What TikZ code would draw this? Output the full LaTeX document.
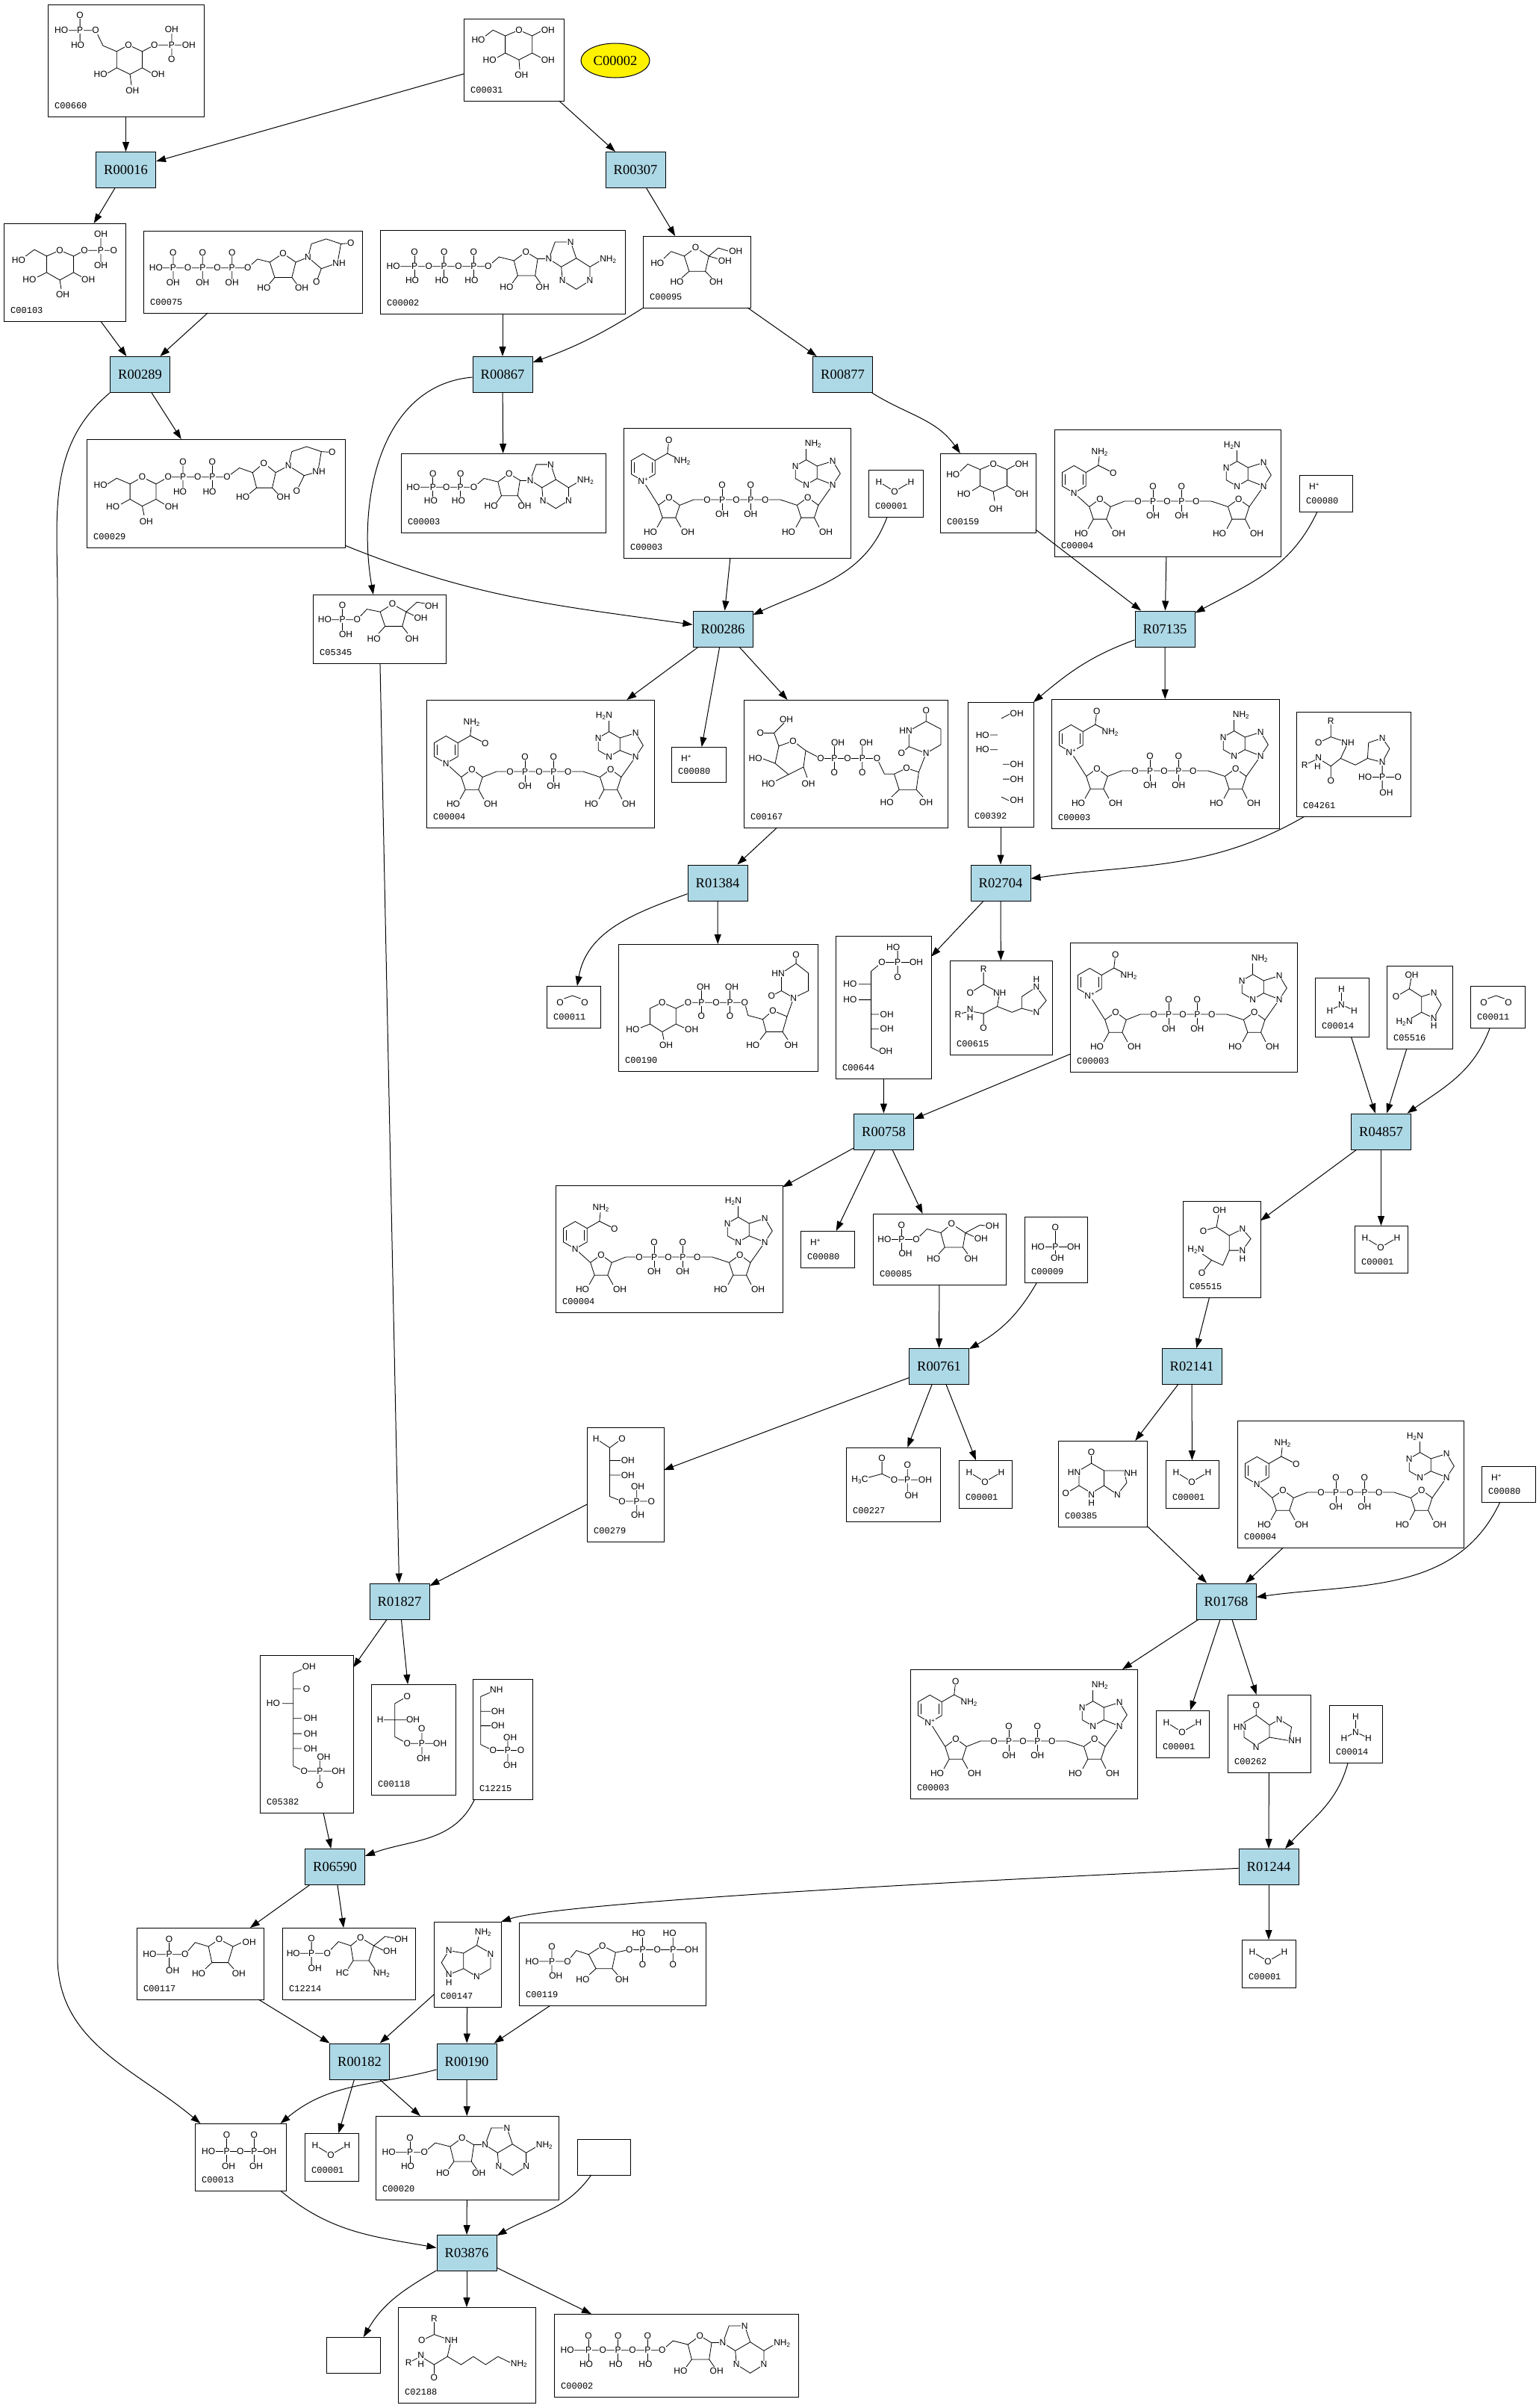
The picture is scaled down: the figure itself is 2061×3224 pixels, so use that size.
\documentclass[tikz,border=0pt]{standalone}
\usepackage{fontspec}
\setmainfont{Liberation Serif}
\newfontfamily\idfont{Liberation Mono}
\newfontfamily\atomfont{Liberation Sans}
\usetikzlibrary{arrows.meta,shapes.geometric}
\definecolor{rxnfill}{HTML}{ADD8E6}

% compound box: name, centre x, centre y, width, height, KEGG id
\newcommand{\cpd}[6]{%
  \node[cpd,minimum width=#4,minimum height=#5] (#1) at (#2,#3) {};
  \node[cid] (#1-id) at (#1.south west) {#6};}
% structure in a box: bonds, then atoms x/y/text (offsets from the top left corner, y downwards)
\newcommand{\drawmol}[3]{%
  \begin{scope}[shift={(#1.north west)},yscale=-1]
    \draw[bond] #2;
    \foreach \x/\y/\t [count=\k] in {#3}
      \node[atomw] (#1-x\k) at (\x,\y) {\t};
  \end{scope}}
% small molecules drawn inside their boxes
\newcommand{\water}[1]{%
  \node[atom] (#1-h1) at ([shift={(14,-16)}]#1.north west) {H};
  \node[atom] (#1-o)  at ([shift={(35,-29)}]#1.north west) {O};
  \node[atom] (#1-h2) at ([shift={(57,-16)}]#1.north west) {H};
  \draw[bond] (#1-h1) -- (#1-o) -- (#1-h2);}
\newcommand{\proton}[1]{%
  \node[atom] (#1-h) at ([shift={(20,-15)}]#1.north west) {H\textsuperscript{+}};}
\newcommand{\carbdiox}[1]{%
  \node[atom] (#1-o1) at ([shift={(18,-22)}]#1.north west) {O};
  \node[atom] (#1-o2) at ([shift={(51,-22)}]#1.north west) {O};
  \coordinate (#1-c) at ([shift={(34.5,-13)}]#1.north west);
  \draw[bond] (#1-o1.north east) -- (#1-c) -- (#1-o2.north west);}
\newcommand{\ammonia}[1]{%
  \node[atom] (#1-n)  at ([shift={(35.5,-36)}]#1.north west) {N};
  \node[atom] (#1-h1) at ([shift={(35.5,-15)}]#1.north west) {H};
  \node[atom] (#1-h2) at ([shift={(20,-44)}]#1.north west) {H};
  \node[atom] (#1-h3) at ([shift={(52.5,-44)}]#1.north west) {H};
  \draw[bond] (#1-n) -- (#1-h1) (#1-n) -- (#1-h2) (#1-n) -- (#1-h3);}
% NAD+/NADH: box, ring y, N label, top label, side label, amine label, amine x
\newcommand{\nadpic}[7]{%
  \begin{scope}[shift={(#1.north west)}]
    \draw[bond] (26.3,-#2) +(90:18.3) -- +(30:18.3) -- +(-30:18.3) -- +(-90:18.3)
      -- +(-150:18.3) -- +(150:18.3) -- cycle;
    \draw[bond] (26.3,-#2) +(150:14) -- +(-150:14) +(30:14) -- +(-30:14);
    \draw[bond] (61,-108) +(90:15) -- +(18:15) -- +(-54:15) -- +(-126:15) -- +(162:15) -- cycle;
    \draw[bond] (246.7,-108) +(90:15) -- +(18:15) -- +(-54:15) -- +(-126:15) -- +(162:15) -- cycle;
    \draw[bond] (244.7,-59.3) +(90:16.7) -- +(30:16.7) -- +(-30:16.7) -- +(-90:16.7)
      -- +(-150:16.7) -- +(150:16.7) -- cycle;
    \draw[bond] (259.2,-51) -- (280.3,-44.3) -- (290.3,-61) -- (280.3,-76) -- (259.2,-67.7);
    \draw[bond] (26.3,-#2-18.3) -- (46.7,-103.4);
    \draw[bond] (75.3,-103.4) -- (94,-96) -- (210,-96) -- (232.4,-103.4);
    \draw[bond] (261,-103.4) -- (280.3,-76);
    \draw[bond] (132,-76) -- (132,-115) (170.3,-76) -- (170.3,-115);
    \draw[bond] (52.2,-120.1) -- (45,-133) (69.8,-120.1) -- (77,-133);
    \draw[bond] (237.9,-120.1) -- (231,-133) (255.5,-120.1) -- (262,-133);
    \draw[bond] (42.15,-#2+9.15) -- (58.75,-#2+18.65) -- (60.75,-#2+36.65)
      (58.75,-#2+18.65) -- (78.75,-#2+8.65);
    \draw[bond] (244.7,-42.6) -- (244.7,-28);
    \node[atomw] (#1-n)  at (26.3,-#2-18.3) {#3};
    \node[atomw] (#1-t)  at (60.75,-#2+36.65) {#4};
    \node[atomw] (#1-s)  at (78.75,-#2+8.65) {#5};
    \node[atomw] (#1-am) at (#7,-21) {#6};
    \node[atomw] (#1-o1) at (61,-93) {O};
    \node[atomw] (#1-o2) at (246.7,-93) {O};
    \node[atomw] (#1-h1) at (36,-139) {HO};
    \node[atomw] (#1-h2) at (86,-139) {OH};
    \node[atomw] (#1-h3) at (221,-139) {HO};
    \node[atomw] (#1-h4) at (271,-139) {OH};
    \foreach \x/\t [count=\k] in {112/O,132/P,151/O,170.3/P,189.7/O}
      \node[atomw] (#1-ch\k) at (\x,-96) {\t};
    \node[atomw] (#1-d1) at (132,-76) {O};
    \node[atomw] (#1-d2) at (170.3,-76) {O};
    \node[atomw] (#1-u1) at (132,-115) {OH};
    \node[atomw] (#1-u2) at (170.3,-115) {OH};
    \node[atomw] (#1-a1) at (230.2,-51) {N};
    \node[atomw] (#1-a3) at (244.7,-76) {N};
    \node[atomw] (#1-a7) at (280.3,-44.3) {N};
    \node[atomw] (#1-a9) at (280.3,-76) {N};
  \end{scope}}
% adenosine phosphates: box, number of phosphates, scale
\newcommand{\adopic}[3]{%
  \begin{scope}[shift={(#1.north west)},scale=#3]
    \pgfmathsetmacro\xo{39.7*(#2-1)}
    \draw[bond] ({\xo+115.9},-29.3) -- ({\xo+131.6},-38.7) -- ({\xo+128.3},-61)
      -- ({\xo+104.9},-61) -- ({\xo+99.9},-41) -- cycle;
    \draw[bond] ({\xo+163.3},-49.3) -- ({\xo+183.3},-37.7) -- ({\xo+201.6},-49.3)
      -- ({\xo+201.6},-67.7) -- ({\xo+183.3},-79.3) -- ({\xo+164.9},-67.7) -- cycle;
    \draw[bond] ({\xo+163.3},-49.3) -- ({\xo+146.6},-38.7) -- ({\xo+154.9},-16)
      -- ({\xo+175.9},-16) -- ({\xo+183.3},-37.7);
    \draw[bond] (17.7,-48.7) -- ({\xo+65.3},-48.7) -- ({\xo+79.9},-36) -- ({\xo+99.9},-41);
    \draw[bond] ({\xo+131.6},-38.7) -- ({\xo+146.6},-38.7);
    \draw[bond] ({\xo+128.3},-61) -- ({\xo+136},-72) ({\xo+104.9},-61) -- ({\xo+97},-72);
    \draw[bond] ({\xo+201.6},-49.3) -- ({\xo+214},-42);
    \foreach \i in {1,...,#2}
      \draw[bond] ({46+39.7*(\i-1)},-29.3) -- ({46+39.7*(\i-1)},-67.7);
    \node[atomw] (#1-ho) at (17.7,-48.7) {HO};
    \foreach \i in {1,...,#2} {
      \node[atomw] (#1-p\i) at ({46+39.7*(\i-1)},-48.7) {P};
      \node[atomw] (#1-o\i) at ({65.3+39.7*(\i-1)},-48.7) {O};
      \node[atomw] (#1-d\i) at ({46+39.7*(\i-1)},-29.3) {O};
      \node[atomw] (#1-h\i) at ({43+39.7*(\i-1)},-67.7) {HO};}
    \node[atomw] (#1-ro)  at ({\xo+115.9},-29.3) {O};
    \node[atomw] (#1-rho) at ({\xo+90},-76) {HO};
    \node[atomw] (#1-roh) at ({\xo+138.3},-76) {OH};
    \node[atomw] (#1-n9)  at ({\xo+146.6},-38.7) {N};
    \node[atomw] (#1-n7)  at ({\xo+175.9},-16) {N};
    \node[atomw] (#1-n1)  at ({\xo+201.6},-67.7) {N};
    \node[atomw] (#1-n3)  at ({\xo+164.9},-67.7) {N};
    \node[atomw] (#1-am)  at ({\xo+226},-39.3) {NH\textsubscript{2}};
  \end{scope}}

\begin{document}
\begin{tikzpicture}[x=1pt,y=1pt,
  cpd/.style={draw,line width=1pt,inner sep=0pt,outer sep=0pt},
  cid/.style={anchor=south west,inner sep=0pt,xshift=9,yshift=10,
    font=\idfont\fontsize{12}{12}\selectfont},
  rxn/.style={draw,line width=1pt,fill=rxnfill,minimum width=80,
    minimum height=48,inner sep=0pt,font=\fontsize{18.5}{20}\selectfont},
  hub/.style={ellipse,draw,line width=1pt,fill=yellow,minimum width=92,
    minimum height=46,inner sep=0pt,font=\fontsize{18.5}{20}\selectfont},
  atom/.style={inner sep=0.5pt,font=\atomfont\fontsize{12}{12}\selectfont},
  atomw/.style={atom,fill=white},
  bond/.style={line width=0.8pt},
  flow/.style={line width=1pt,-{Triangle[length=13pt,width=9pt]}}]
  \useasboundingbox (0,0) rectangle (2061,-3224);
  % Reactions
  \node[rxn] (R00016) at (168.5,-227.5) {R00016};
  \node[rxn] (R00307) at (851,-227.5) {R00307};
  \node[rxn] (R00289) at (187.5,-501.5) {R00289};
  \node[rxn] (R00867) at (673,-501.5) {R00867};
  \node[rxn] (R00877) at (1128.5,-501.5) {R00877};
  \node[rxn] (R00286) at (968,-842) {R00286};
  \node[rxn] (R07135) at (1560,-842) {R07135};
  \node[rxn] (R01384) at (961,-1182) {R01384};
  \node[rxn] (R02704) at (1340,-1182) {R02704};
  \node[rxn] (R00758) at (1183.5,-1515) {R00758};
  \node[rxn] (R04857) at (1849.5,-1515) {R04857};
  \node[rxn] (R00761) at (1257.5,-1829.5) {R00761};
  \node[rxn] (R02141) at (1596,-1829.5) {R02141};
  \node[rxn] (R01827) at (535,-2144) {R01827};
  \node[rxn] (R01768) at (1642,-2144) {R01768};
  \node[rxn] (R06590) at (448.5,-2499.5) {R06590};
  \node[rxn] (R01244) at (1699,-2499.5) {R01244};
  \node[rxn] (R00182) at (481.5,-2760) {R00182};
  \node[rxn] (R00190) at (625,-2760) {R00190};
  \node[rxn] (R03876) at (625,-3016.5) {R03876};
  % Compounds, row by row
  \node[hub] (hub) at (824,-81) {C00002};
  \cpd{c660}{168.5}{-81}{209}{150}{C00660}
  \cpd{c31}{688}{-80}{134}{110}{C00031}
  \cpd{c103}{86.5}{-364.5}{163}{131}{C00103}
  \cpd{c75}{338.5}{-364}{293}{110}{C00075}
  \cpd{c2a}{673}{-364}{328}{112}{C00002}
  \cpd{c95}{933}{-364}{144}{96}{C00095}
  \cpd{c29}{289}{-660.5}{346}{145}{C00029}
  \cpd{c3a}{674}{-660}{274}{106}{C00003}
  \cpd{c3b}{987}{-660}{304}{174}{C00003}
  \cpd{c1a}{1199.5}{-660.5}{73}{63}{C00001}
  \cpd{c159}{1323}{-660}{128}{106}{C00159}
  \cpd{c4a}{1563.5}{-660}{303}{170}{C00004}
  \cpd{c80a}{1775.5}{-660.5}{71}{49}{C00080}
  \cpd{c5345}{508}{-842}{178}{92}{C05345}
  \cpd{c4b}{723.5}{-1022.5}{305}{171}{C00004}
  \cpd{c80b}{935.5}{-1023.5}{73}{47}{C00080}
  \cpd{c167}{1132.5}{-1022.5}{273}{171}{C00167}
  \cpd{c392}{1340}{-1023.5}{88}{167}{C00392}
  \cpd{c3c}{1560.5}{-1022.5}{305}{173}{C00003}
  \cpd{c4261}{1812.5}{-1023}{153}{140}{C04261}
  \cpd{c11a}{768}{-1348}{72}{56}{C00011}
  \cpd{c190}{961.5}{-1349}{267}{170}{C00190}
  \cpd{c644}{1183}{-1348.5}{128}{191}{C00644}
  \cpd{c615}{1340.5}{-1349}{137}{126}{C00615}
  \cpd{c3d}{1585}{-1348.5}{304}{173}{C00003}
  \cpd{c14a}{1797}{-1348.5}{72}{79}{C00014}
  \cpd{c5516}{1901}{-1348.5}{88}{111}{C05516}
  \cpd{c11b}{2005.5}{-1348}{73}{56}{C00011}
  \cpd{c4c}{896}{-1672}{304}{170}{C00004}
  \cpd{c80c}{1108}{-1672.5}{72}{49}{C00080}
  \cpd{c85}{1258}{-1672.5}{178}{95}{C00085}
  \cpd{c9}{1414}{-1673}{84}{88}{C00009}
  \cpd{c5515}{1636}{-1672.5}{104}{129}{C05515}
  \cpd{c1b}{1849.5}{-1672.5}{71}{63}{C00001}
  \cpd{c279}{837.5}{-1987.5}{103}{153}{C00279}
  \cpd{c227}{1196}{-1987.5}{126}{99}{C00227}
  \cpd{c1c}{1319.5}{-1987}{71}{64}{C00001}
  \cpd{c385}{1476.5}{-1986.5}{119}{115}{C00385}
  \cpd{c1d}{1596.5}{-1987}{71}{64}{C00001}
  \cpd{c4d}{1808.5}{-1987}{303}{170}{C00004}
  \cpd{c80d}{2020}{-1987}{72}{48}{C00080}
  \cpd{c5382}{410.5}{-2321.5}{125}{211}{C05382}
  \cpd{c118}{553.5}{-2329}{113}{148}{C00118}
  \cpd{c12215}{673}{-2328.5}{80}{161}{C12215}
  \cpd{c3e}{1371}{-2321.5}{304}{173}{C00003}
  \cpd{c1e}{1583.5}{-2321.5}{71}{63}{C00001}
  \cpd{c262}{1699.5}{-2321}{111}{104}{C00262}
  \cpd{c14b}{1815.5}{-2321.5}{71}{77}{C00014}
  \cpd{c117}{268}{-2629}{170}{96}{C00117}
  \cpd{c12214}{467}{-2629}{178}{96}{C12214}
  \cpd{c147}{626}{-2630}{90}{114}{C00147}
  \cpd{c119}{820}{-2629.5}{250}{111}{C00119}
  \cpd{c1f}{1699}{-2629}{72}{64}{C00001}
  \cpd{c13}{322}{-2888}{122}{90}{C00013}
  \cpd{c1g}{444}{-2888}{72}{64}{C00001}
  \cpd{c20}{625.5}{-2889}{245}{112}{C00020}
  \node[cpd,minimum width=71,minimum height=48] (cx1) at (808.5,-2888) {};
  \node[cpd,minimum width=72,minimum height=48] (cx2) at (473,-3153) {};
  \cpd{c2188}{625}{-3153}{184}{128}{C02188}
  \cpd{c2b}{905.5}{-3153.5}{327}{111}{C00002}
  % structures inside the boxes
  \water{c1a} \water{c1b} \water{c1c} \water{c1d}
  \water{c1e} \water{c1f} \water{c1g}
  \proton{c80a} \proton{c80b} \proton{c80c} \proton{c80d}
  \carbdiox{c11a} \carbdiox{c11b}
  \ammonia{c14a} \ammonia{c14b}
  \nadpic{c3b}{52.7}{N\textsuperscript{+}}{O}{NH\textsubscript{2}}{NH\textsubscript{2}}{254}
  \nadpic{c3c}{52.7}{N\textsuperscript{+}}{O}{NH\textsubscript{2}}{NH\textsubscript{2}}{254}
  \nadpic{c3d}{52.7}{N\textsuperscript{+}}{O}{NH\textsubscript{2}}{NH\textsubscript{2}}{254}
  \nadpic{c3e}{52.7}{N\textsuperscript{+}}{O}{NH\textsubscript{2}}{NH\textsubscript{2}}{254}
  \nadpic{c4a}{66.7}{N}{NH\textsubscript{2}}{O}{H\textsubscript{2}N}{238}
  \nadpic{c4b}{66.7}{N}{NH\textsubscript{2}}{O}{H\textsubscript{2}N}{238}
  \nadpic{c4c}{66.7}{N}{NH\textsubscript{2}}{O}{H\textsubscript{2}N}{238}
  \nadpic{c4d}{66.7}{N}{NH\textsubscript{2}}{O}{H\textsubscript{2}N}{238}
  \adopic{c2a}{3}{1}
  \adopic{c2b}{3}{1}
  \adopic{c3a}{2}{0.93}
  \adopic{c20}{1}{1}
  \drawmol{c9}{(41.4,14)--(41.4,53) (18,40.3)--(66,40.3)}
    {41.4/40.3/P, 41.4/14/O, 18/40.3/HO, 66/40.3/OH, 44/55/OH}
  \drawmol{c13}{(18.2,37.6)--(100.3,37.6) (42.5,15)--(42.5,56.4) (79.3,15)--(79.3,56.4)}
    {18.2/37.6/HO, 42.5/37.6/P, 60.9/37.6/O, 79.3/37.6/P, 100.3/37.6/OH,
     42.5/15/O, 79.3/15/O, 45/57/OH, 82/57/OH}
  \drawmol{c660}{(92.3,62.9)--(108.1,54.2)--(126.5,62.9)--(126.5,84.8)--(110.1,93.5)--(92.3,84.8)--cycle
    (92.3,62.9)--(74,55.2)--(64.1,34.8) (18.1,34.8)--(64.1,34.8) (43.1,14.4)--(43.1,54.2)
    (126.5,62.9)--(142.9,54.2)--(188.9,54.2) (165.9,33.8)--(165.9,73.1)
    (92.3,84.8)--(80,92) (126.5,84.8)--(139,92) (110.1,93.5)--(112,108)}
    {108.1/54.2/O, 64.1/34.8/O, 43.1/34.8/P, 18.1/34.8/HO, 43.1/14.4/O, 40/54.2/HO,
     142.9/54.2/O, 165.9/54.2/P, 188.9/54.2/OH, 165.9/33.8/OH, 165.9/73.1/O,
     70.7/93.5/HO, 147.5/93.5/OH, 113.4/114.9/OH}
  \drawmol{c31}{(55.6,23)--(74,15.3)--(91.7,23)--(91.7,46)--(74,55.1)--(55.6,46)--cycle
    (55.6,23)--(39.2,15.3)--(28,24) (91.7,23)--(103,17) (55.6,46)--(45,52)
    (91.7,46)--(103,52) (74,55.1)--(75,68)}
    {74/15.3/O, 19.5/28/HO, 112.8/15.3/OH, 34.6/55.1/HO, 112.8/55.1/OH, 77.3/75.5/OH}
  \drawmol{c103}{(57.4,43.9)--(75.1,36.2)--(93.5,43.9)--(93.5,65.8)--(75.1,76)--(57.4,65.8)--cycle
    (57.4,43.9)--(41,35.2)--(28,45) (93.5,43.9)--(108,36.2)--(147.4,36.2) (130,14.8)--(130,56.6)
    (57.4,65.8)--(45,72) (93.5,65.8)--(105,72) (75.1,76)--(77,88)}
    {75.1/36.2/O, 20/49/HO, 108/36.2/O, 130/36.2/P, 147.4/36.2/O, 130/14.8/OH,
     130/56.6/OH, 34.4/75/HO, 113.2/75/OH, 79.1/94.9/OH}
  \drawmol{c75}{(16.9,49.7)--(139.7,49.7)--(152.9,37.9)--(169.3,42)
    (39.9,29.3)--(39.9,69.6) (79.3,29.3)--(79.3,69.6) (118.7,29.3)--(118.7,69.6)
    (169.3,42)--(187,30.3)--(204.1,42)--(198.9,62.4)--(175.9,62.4)--cycle
    (175.9,62.4)--(168,72) (198.9,62.4)--(206,72) (204.1,42)--(220.5,35.4)
    (220.5,35.4)--(225.1,17.5)--(244.8,10.9)--(264.5,17.5)--(260,43)--(238.3,50.7)--cycle
    (264.5,17.5)--(277.7,16.5) (238.3,50.7)--(231.7,68.6)}
    {16.9/49.7/HO, 39.9/49.7/P, 59.6/49.7/O, 79.3/49.7/P, 99/49.7/O, 118.7/49.7/P,
     139.7/49.7/O, 39.9/29.3/O, 79.3/29.3/O, 118.7/29.3/O, 39.9/69.6/OH, 79.3/69.6/OH,
     118.7/69.6/OH, 187/30.3/O, 161.4/76.2/HO, 212/76.2/OH, 220.5/35.4/N,
     277.7/16.5/O, 262/43/NH, 231.7/68.6/O}
  \drawmol{c95}{(55.4,26.9)--(70.5,15.6)--(88.2,26.9)--(83.6,47.3)--(61.9,47.3)--cycle
    (55.4,26.9)--(37.7,20.7)--(28,30) (88.2,26.9)--(101,16)--(114,20) (88.2,26.9)--(102,31)
    (61.9,47.3)--(52,56) (83.6,47.3)--(92,56)}
    {70.5/15.6/O, 19.3/36/HO, 124.3/20.7/OH, 109.9/33.5/OH, 45.5/61.6/HO, 98.1/61.6/OH}
  \drawmol{c29}{(58.1,60)--(74.5,50.8)--(92.9,60)--(92.9,80.4)--(74.5,89.6)--(58.1,80.4)--cycle
    (58.1,60)--(40.3,52.3)--(28,60) (58.1,80.4)--(46,87) (92.9,80.4)--(104,87) (74.5,89.6)--(77,102)
    (92.9,60)--(109.3,50.8)--(188.1,50.8)--(204.6,38.5)--(222.3,44.7)
    (129,30.4)--(129,70.2) (168.4,30.4)--(168.4,70.2)
    (222.3,44.7)--(237.4,31.9)--(253.2,44.7)--(248.6,65.1)--(227.6,65.1)--cycle
    (227.6,65.1)--(218,73) (248.6,65.1)--(256,73) (253.2,44.7)--(270.3,35.5)
    (270.3,35.5)--(274.9,16.6)--(294.6,10)--(314.3,16.6)--(309.7,43.6)--(291.3,48.7)--cycle
    (314.3,16.6)--(328.7,17.6) (291.3,48.7)--(281.4,69.1)}
    {74.5/50.8/O, 18.7/61/HO, 35.1/90.6/HO, 113.9/90.6/OH, 79.8/110/OH, 109.3/50.8/O,
     129/50.8/P, 148.7/50.8/O, 168.4/50.8/P, 188.1/50.8/O, 129/30.4/O, 168.4/30.4/O,
     125/70.2/HO, 164.5/70.2/HO, 237.4/31.9/O, 209.2/77.8/HO, 263.7/77.8/OH,
     270.3/35.5/N, 328.7/17.6/O, 311/43.6/NH, 281.4/69.1/O}
  \drawmol{c159}{(53.5,21.6)--(71.2,13.9)--(89.6,21.6)--(89.6,43.5)--(71.2,51.2)--(53.5,43.5)--cycle
    (53.5,21.6)--(37,14.4)--(27,24) (89.6,21.6)--(100,16) (53.5,43.5)--(43,50)
    (89.6,43.5)--(100,50) (71.2,51.2)--(73,64)}
    {71.2/13.9/O, 17.3/28.2/HO, 109.3/14.4/OH, 31.8/54.7/HO, 109.3/54.7/OH, 74.5/74.1/OH}
  \drawmol{c5345}{(15.9,33.7)--(59.2,33.7)--(72.4,19.6)--(90.1,23.2) (39.5,14.3)--(39.5,53)
    (90.1,23.2)--(106.5,12.8)--(124.9,23.2)--(119.7,42.6)--(96.7,42.6)--cycle
    (124.9,23.2)--(139.4,10.2)--(150,12) (124.9,23.2)--(137,29)
    (96.7,42.6)--(88,52) (119.7,42.6)--(127,52)}
    {39.5/14.3/O, 39.5/33.7/P, 15.9/33.7/HO, 59.2/33.7/O, 44.1/53/OH, 106.5/12.8/O,
     159.1/15.4/OH, 144.6/31.1/OH, 81.6/59.8/HO, 132.8/59.8/OH}
  \drawmol{c167}{(47,62)--(66,55)--(83,68)--(80,90)--(60,100)--(42,85)--cycle
    (47,62)--(40.6,44.4)--(55,30) (40.6,44.4)--(25,44.4)
    (42,85)--(26,79) (60,100)--(40,110) (80,90)--(85,104)
    (83,68)--(103,78.4)--(178.5,78.4)--(188.4,99.3)--(201.5,99.3)
    (121.4,57.4)--(121.4,97.7) (158.8,57.4)--(158.8,97.7)
    (201.5,99.3)--(218,91.4)--(234.4,96.7)--(231.1,120.2)--(208.1,120.2)--cycle
    (208.1,120.2)--(198,130) (231.1,120.2)--(240,130) (234.4,96.7)--(244.2,71.6)
    (244.2,71.6)--(221.2,62.6)--(221.2,41.7)--(244.2,28.7)--(263.9,39.1)--(263.9,60)--cycle
    (244.2,28.7)--(244.2,14.5) (221.2,62.6)--(211.4,71.6)}
    {57/26/OH, 22.2/44.4/O, 66/55/O, 15.6/78.4/HO, 33/112.4/HO, 86.6/112.4/OH,
     103/78.4/O, 121.4/78.4/P, 139.1/78.4/O, 158.8/78.4/P, 178.5/78.4/O, 126/57.4/OH,
     164/57.4/OH, 121.4/97.7/O, 158.8/97.7/O, 218/91.4/O, 191.7/137.4/HO,
     244.2/137.4/OH, 244.2/71.6/N, 244.2/14.5/O, 217/41.7/HN, 211.4/71.6/O}
  \drawmol{c392}{(45,22)--(56,16) (30,44)--(40,44) (30,63.8)--(40,63.8) (47,83.2)--(56,83.2)
    (47,103.1)--(56,103.1) (45,127)--(55,131.8)}
    {65.7/15.2/OH, 19.8/44/HO, 19.8/63.8/HO, 65.7/83.2/OH, 65.7/103.1/OH, 65.7/131.8/OH}
  \drawmol{c4261}{(46.2,12.7)--(46.2,33.6)--(29.7,41.4) (46.2,33.6)--(69.1,41.4)--(59.3,62.4)--(46.2,72.8)--(29.7,62.4)--(11.3,71.2)
    (46.2,72.8)--(46.2,92.2) (59.3,62.4)--(79,71.2)--(95.4,62.4)
    (95.4,62.4)--(96.7,41.4)--(115.1,35.2)--(125,49.3)--(115.1,67.6)--cycle
    (115.1,67.6)--(115.1,107.9) (92.2,87.5)--(136.2,87.5)}
    {46.2/12.7/R, 29.7/41.4/O, 69.1/41.4/NH, 29.7/61/N, 28.4/73/H, 11.3/71.2/R,
     46.2/92.2/O, 115.1/35.2/N, 115.1/67.6/N, 115.1/87.5/P, 92.2/87.5/HO,
     136.2/87.5/O, 120.4/107.9/OH}
  \drawmol{c190}{(42.4,86.1)--(58.8,78.2)--(77.2,86.1)--(77.2,107)--(58.8,117.5)--(42.4,107)--cycle
    (42.4,107)--(30,112) (77.2,107)--(88,112) (58.8,117.5)--(61,128)
    (77.2,86.1)--(93.6,78.2)--(169.2,78.2)--(173.8,95.5)--(193.5,100.7)
    (111.4,57.3)--(111.4,96.5) (149.5,57.3)--(149.5,96.5)
    (193.5,100.7)--(207,89)--(226,97)--(220,117.5)--(198,117.5)--cycle
    (198,117.5)--(190,128) (220,117.5)--(227,128) (226,97)--(234.8,72)
    (234.8,72)--(218.4,62.5)--(218.4,39)--(238.1,26)--(254.6,39)--(254.6,62.5)--cycle
    (238.1,26)--(238.1,14.4) (218.4,62.5)--(205.3,69.3)}
    {58.8/78.2/O, 19.4/114.8/HO, 98.2/114.8/OH, 64.1/135.8/OH, 93.6/78.2/O,
     111.4/78.2/P, 131.1/78.2/O, 149.5/78.2/P, 169.2/78.2/O, 114/57.3/OH, 152/57.3/OH,
     111.4/96.5/O, 149.5/96.5/O, 207/89/O, 180.3/135.8/HO, 231.6/135.8/OH,
     234.8/72/N, 238.1/14.4/O, 214/39/HN, 205.3/69.3/O}
  \drawmol{c644}{(47.6,47.4)--(47.6,149.4)--(58,154.6) (47.6,47.4)--(62.1,35.4)--(108.1,35.4)
    (83.1,15)--(83.1,55.2) (31,64.7)--(47.6,64.7) (31,85.6)--(47.6,85.6)
    (47.6,105)--(58,105) (47.6,124.8)--(58,124.8)}
    {62.1/35.4/O, 83.1/35.4/P, 108.1/35.4/OH, 77.2/15/HO, 83.1/55.2/O, 19.4/64.7/HO,
     19.4/85.6/HO, 68.7/105/OH, 68.7/124.8/OH, 67.3/154.6/OH}
  \drawmol{c615}{(45.1,11.8)--(45.1,32)--(27.3,43.2) (45.1,32)--(66.7,43.2)--(63.5,61.5)--(45.1,71)--(27.3,67.7)--(10.9,71.9)
    (45.1,71)--(45.1,90.2) (63.5,61.5)--(83.2,69.3)--(96.3,64.1)
    (96.3,64.1)--(96.3,48.4)--(116,35.3)--(129.2,53.6)--(116,69.3)--cycle}
    {45.1/11.8/R, 27.3/43.2/O, 66.7/43.2/NH, 27.3/65/N, 27.3/76/H, 10.9/71.9/R,
     45.1/90.2/O, 116/35.3/N, 116/25/H, 116/69.3/N}
  \drawmol{c5516}{(33.5,12.6)--(30.3,30.9)--(12.5,41.4) (30.3,30.9)--(46.7,41.4)
    (46.7,41.4)--(63.1,36.2)--(73,52)--(63.1,70.2)--(46.7,62.3)--cycle (46.7,62.3)--(30,72)}
    {33.5/12.6/OH, 12.5/41.4/O, 63.1/36.2/N, 63.1/70.2/N, 63.1/80/H, 23.7/75.4/H\textsubscript{2}N}
  \drawmol{c85}{(15.4,34.5)--(58.1,34.5)--(72.5,20.4)--(90.9,25.6) (38.4,15.1)--(38.4,53.3)
    (90.9,25.6)--(105.4,13.6)--(123.8,25.6)--(120.5,45)--(96.2,45)--cycle
    (123.8,25.6)--(143.5,15.1)--(150,16) (123.8,25.6)--(136,31)
    (96.2,45)--(88,54) (120.5,45)--(127,54)}
    {38.4/15.1/O, 38.4/34.5/P, 15.4/34.5/HO, 58.1/34.5/O, 43.6/53.3/OH, 105.4/13.6/O,
     159.9/16.7/OH, 144.8/33.5/OH, 81.1/60.6/HO, 131.6/60.6/OH}
  \drawmol{c5515}{(49,12.8)--(45.1,34.8)--(27.4,40) (45.1,34.8)--(62.2,46.3)
    (62.2,46.3)--(79.9,37.4)--(91.1,50.5)--(79.9,66.1)--(62.2,66.1)--cycle
    (62.2,66.1)--(53.6,86)--(38.5,79.2)--(17.5,65.1) (38.5,79.2)--(25.4,96.5)}
    {49/12.8/OH, 27.4/40/O, 79.9/37.4/N, 79.9/66.1/N, 79.9/77/H,
     17.5/65.1/H\textsubscript{2}N, 25.4/96.5/O}
  \drawmol{c279}{(12.1,15.2)--(30.5,27.3)--(47,15.2) (30.5,27.3)--(30.5,92.6)--(47,98.9)--(86.4,98.9)
    (30.5,44.5)--(45,44.5) (30.5,63.9)--(45,63.9) (66.7,79.6)--(66.7,117.7)}
    {12.1/15.2/H, 47/15.2/O, 54.8/44.5/OH, 54.8/63.9/OH, 47/98.9/O, 66.7/98.9/P,
     86.4/98.9/O, 68/79.6/OH, 68/117.7/OH}
  \drawmol{c227}{(18.5,43.2)--(48.1,35.3)--(64.5,43.2)--(105.9,43.2) (48.1,35.3)--(48.1,14.4)
    (82.2,23.8)--(82.2,64.1)}
    {18.5/43.2/H\textsubscript{3}C, 48.1/14.4/O, 64.5/43.2/O, 82.2/43.2/P,
     105.9/43.2/OH, 82.2/23.8/O, 87.5/64.1/OH}
  \drawmol{c385}{(44.6,30.2)--(28,40)--(28,60)--(44.6,70)--(61.5,60)--(61.5,40)--cycle
    (44.6,30.2)--(44.6,15.5) (28,60)--(10.4,70.5)
    (61.5,40)--(88,40)--(92,56)--(79.4,72)--(61.5,60)}
    {44.6/15.5/O, 21.6/42.2/HN, 10.4/70.5/O, 44.6/72/N, 44.6/83/H, 97/43/NH, 79.4/72/N}
  \drawmol{c5382}{(65.8,15.2)--(44.8,24)--(44.8,148.5)--(59.3,155.3)--(105.3,155.3)
    (44.8,45)--(55,45) (30,64.8)--(44.8,64.8) (44.8,84.7)--(56,84.7) (44.8,105.1)--(56,105.1)
    (44.8,125)--(56,125) (80.3,136.5)--(80.3,174.7)}
    {65.8/15.2/OH, 62.6/45/O, 17.9/64.8/HO, 67.8/84.7/OH, 67.8/105.1/OH, 67.8/125/OH,
     59.3/155.3/O, 80.3/155.3/P, 105.3/155.3/OH, 85.6/136.5/OH, 80.3/174.7/O}
  \drawmol{c118}{(48.2,16.4)--(31.8,25.8)--(31.8,70.3)--(48.2,79.2)--(92.2,79.2)
    (12.1,47.8)--(56.1,47.8) (67.9,59.8)--(67.9,99.1)}
    {48.2/16.4/O, 12.1/47.8/H, 56.1/47.8/OH, 48.2/79.2/O, 67.9/79.2/P, 92.2/79.2/OH,
     67.9/59.8/O, 70/99.1/OH}
  \drawmol{c12215}{(31.8,14.5)--(10.8,23.4)--(10.8,87.8)--(27.2,95.6)--(64.6,95.6)
    (10.8,43.3)--(24,43.3) (10.8,62.6)--(24,62.6) (46.9,78.3)--(46.9,115)}
    {31.8/14.5/NH, 33.8/43.3/OH, 33.8/62.6/OH, 27.2/95.6/O, 46.9/95.6/P, 64.6/95.6/O,
     50.2/78.3/OH, 50.2/115/OH}
  \drawmol{c262}{(38.3,27.5)--(22,37)--(22,57)--(38.3,68)--(56,57)--(56,40.6)--cycle
    (38.3,27.5)--(38.3,14.5) (56,40.6)--(69.2,33)--(85.6,43.2)--(82.3,61.5)--(56,57)}
    {38.3/14.5/O, 16.6/43.2/HN, 38.3/70.4/N, 69.2/33/N, 90/61.5/NH}
  \drawmol{c117}{(17.4,35.8)--(64.7,35.8)--(78.4,19.7)--(96.2,25.1) (43.6,15.4)--(43.6,57.4)
    (96.2,25.1)--(110.6,15.4)--(129,25.1)--(122.5,46.6)--(100.8,46.6)--cycle
    (129,25.1)--(140,20) (100.8,46.6)--(92,55) (122.5,46.6)--(130,55)}
    {43.6/15.4/O, 43.6/35.8/P, 17.4/35.8/HO, 64.7/35.8/O, 48.2/57.4/OH, 110.6/15.4/O,
     150.7/19.7/OH, 83/61.7/HO, 136.9/61.7/OH}
  \drawmol{c12214}{(14.8,34.2)--(60.2,34.2)--(75.3,18.6)--(91.7,24) (39.1,14.3)--(39.1,54.7)
    (91.7,24)--(104.8,13.2)--(122.6,24)--(116,43.9)--(95,43.9)--cycle
    (122.6,24)--(137.7,11.6)--(150,14) (122.6,24)--(135,30) (95,43.9)--(88,55) (116,43.9)--(124,55)}
    {39.1/14.3/O, 39.1/34.2/P, 14.8/34.2/HO, 60.2/34.2/O, 43.7/54.7/OH, 104.8/13.2/O,
     159.3/15.4/OH, 144.2/31.5/OH, 80.5/60.1/HC, 133.1/61.7/NH\textsubscript{2}}
  \drawmol{c147}{(57.5,31.5)--(75.9,42)--(75.9,62.7)--(57.5,73.4)--(39.8,62.7)--(39.8,42)--cycle
    (57.5,31.5)--(60,20) (39.8,42)--(20.1,38.5)--(10.2,54.6)--(20.1,70.8)--(39.8,62.7)}
    {66/14.2/NH\textsubscript{2}, 75.9/43.8/N, 57.5/73.4/N, 20.1/38.5/N, 20.1/70.8/N, 20.1/81.5/H}
  \drawmol{c119}{(17.7,52)--(65,52)--(76.9,37.5)--(93.3,42.8) (44,32.1)--(44,71.4)
    (93.3,42.8)--(111.7,31)--(129.4,40.1)--(124.8,61.7)--(103.1,61.7)--cycle
    (103.1,61.7)--(94,70) (124.8,61.7)--(132,70) (129.4,40.1)--(147.8,36.4)--(231.2,36.4)
    (165.5,14.8)--(165.5,56.3) (206.3,14.8)--(206.3,56.3)}
    {44/32.1/O, 44/52/P, 17.7/52/HO, 65/52/O, 49.3/71.4/OH, 111.7/31/O, 85.4/76.7/HO,
     138/76.7/OH, 147.8/36.4/O, 165.5/36.4/P, 185.3/36.4/O, 206.3/36.4/P, 231.2/36.4/OH,
     160.3/14.8/HO, 201.7/14.8/HO, 165.5/56.3/O, 206.3/56.3/O}
  \drawmol{c2188}{(48.4,15)--(48.4,36.5)--(31.9,44.6) (48.4,36.5)--(71.3,44.6)--(66.1,66.1)--(48.4,76.9)--(30.6,66.1)--(14.2,74.2)
    (48.4,76.9)--(48.4,94.1)
    (66.1,66.1)--(84.5,76.9)--(100.9,66.1)--(117.3,76.9)--(133.8,66.1)--(150,74)}
    {48.4/15/R, 31.9/44.6/O, 71.3/44.6/NH, 30.6/64/N, 30.6/76/H, 14.2/74.2/R,
     48.4/94.1/O, 162/75.8/NH\textsubscript{2}}
  % bends of the long edge on the left
  \coordinate (wayA) at (77,-800);
  \coordinate (wayB) at (77,-2620);
  % Upper part of the Figure
  \draw[flow] (c660) -- (R00016);
  \draw[flow] (c31) -- (R00016);
  \draw[flow] (c31) -- (R00307);
  \draw[flow] (R00016) -- (c103);
  \draw[flow] (R00307) -- (c95);
  \draw[flow] (c103) -- (R00289);
  \draw[flow] (c75) -- (R00289);
  \draw[flow] (c2a) -- (R00867);
  \draw[flow] (c95) to[bend left=6] (R00867);
  \draw[flow] (c95) -- (R00877);
  \draw[flow] (R00289) -- (c29);
  \draw[flow] (R00289.south west) to[out=220,in=90] (wayA) -- (wayB)
        to[out=-90,in=140] (c13);
  \draw[flow] (R00867) -- (c3a);
  \draw[flow] (R00867) to[out=185,in=100] (c5345);
  \draw[flow] (R00877) to[out=-32,in=125] (c159);
  \draw[flow] (c29) to[out=-22,in=172] (R00286);
  \draw[flow] (c3b) -- (R00286);
  \draw[flow] (c1a) to[out=-110,in=25] (R00286);
  \draw[flow] (c159) -- (R07135);
  \draw[flow] (c4a) -- (R07135);
  \draw[flow] (c80a) to[out=-115,in=28] (R07135);
  \draw[flow] (R00286) -- (c4b);
  \draw[flow] (R00286) -- (c80b);
  \draw[flow] (R00286) -- (c167);
  \draw[flow] (R07135) to[out=200,in=40] (c392.north east);
  \draw[flow] (R07135) -- (c3c);
  \draw[flow] (c5345) -- (R01827);
  % Middle part of the Figure
  \draw[flow] (c167) -- (R01384);
  \draw[flow] (R01384) to[out=200,in=80] (c11a);
  \draw[flow] (R01384) -- (c190);
  \draw[flow] (c392) -- (R02704);
  \draw[flow] (c4261.227) to[out=210,in=8] (R02704);
  \draw[flow] (R02704) -- (c644);
  \draw[flow] (R02704) -- (c615);
  \draw[flow] (c644) -- (R00758);
  \draw[flow] (c3d) -- (R00758);
  \draw[flow] (R00758) -- (c4c);
  \draw[flow] (R00758) -- (c80c);
  \draw[flow] (R00758) -- (c85);
  \draw[flow] (c14a) -- (R04857);
  \draw[flow] (c5516) -- (R04857);
  \draw[flow] (c11b) to[out=-110,in=35] (R04857);
  \draw[flow] (R04857) -- (c5515);
  \draw[flow] (R04857) -- (c1b);
  \draw[flow] (c85) -- (R00761);
  \draw[flow] (c9) to[out=-120,in=30] (R00761);
  \draw[flow] (R00761) -- (c279);
  \draw[flow] (R00761) -- (c227);
  \draw[flow] (R00761) -- (c1c);
  \draw[flow] (c5515) -- (R02141);
  \draw[flow] (R02141) -- (c385);
  \draw[flow] (R02141) -- (c1d);
  \draw[flow] (c279) -- (R01827);
  \draw[flow] (R01827) -- (c5382);
  \draw[flow] (R01827) -- (c118);
  \draw[flow] (c385) -- (R01768);
  \draw[flow] (c4d) -- (R01768);
  \draw[flow] (c80d) to[out=-115,in=8] (R01768);
  \draw[flow] (R01768) -- (c3e);
  \draw[flow] (R01768) -- (c1e);
  \draw[flow] (R01768) -- (c262);
  % Lower part of the Figure
  \draw[flow] (c5382) -- (R06590);
  \draw[flow] (c12215) to[out=-115,in=20] (R06590);
  \draw[flow] (R06590) -- (c117);
  \draw[flow] (R06590) -- (c12214);
  \draw[flow] (c262) -- (R01244);
  \draw[flow] (c14b) to[out=-105,in=48] (R01244);
  \draw[flow] (R01244) .. controls +(-650,-30) and +(60,20) .. (c147.north east);
  \draw[flow] (R01244) -- (c1f);
  \draw[flow] (c117) -- (R00182);
  \draw[flow] (c147) -- (R00182);
  \draw[flow] (c147) -- (R00190);
  \draw[flow] (c119) -- (R00190);
  \draw[flow] (R00182) -- (c1g);
  \draw[flow] (R00182) -- (c20);
  \draw[flow] (R00190) to[out=195,in=40] (c13);
  \draw[flow] (R00190) -- (c20);
  \draw[flow] (c13) to[out=-40,in=170] (R03876);
  \draw[flow] (c20) -- (R03876);
  \draw[flow] (cx1) to[out=-125,in=30] (R03876);
  \draw[flow] (R03876) to[out=210,in=60] (cx2);
  \draw[flow] (R03876) -- (c2188);
  \draw[flow] (R03876) -- (c2b);
\end{tikzpicture}
\end{document}
